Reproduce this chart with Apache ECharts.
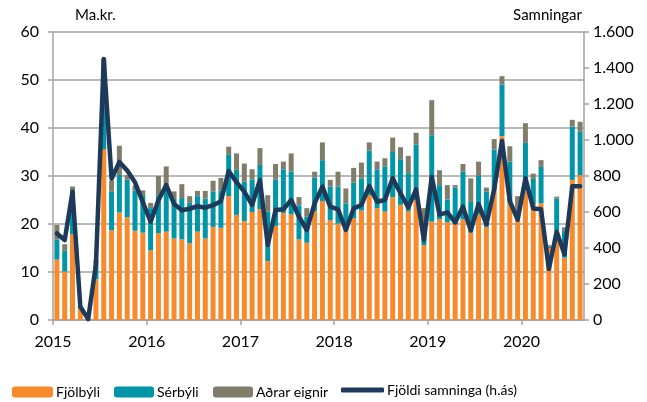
<html>
<head>
  <meta charset="utf-8" />
  <title>Fasteignaviðskipti</title>
  <script src="https://cdn.jsdelivr.net/npm/echarts@6/dist/echarts.min.js"></script>
</head>
<body style="margin:0; background:#ffffff">
  <div id="main" style="width:647px; height:402px"></div>
  <script type="text/javascript">
    // monthly, Jan 2015 - Aug 2020
    var startYear = 2015;
    var yearTicks = [0, 12, 24, 36, 48, 60];

    // ma.kr. (vinstri ás)
    var fjolbyli = [
      12.6, 10.1, 17.9, 2.5, 0.5, 8.5, 35.6, 18.7, 22.4, 21.4, 18.6, 18.2,
      14.5, 18.1, 18.4, 17.0, 16.8, 16.0, 18.4, 17.0, 19.4, 19.2, 25.8, 21.9,
      20.6, 22.5, 23.1, 12.3, 19.6, 22.3, 22.0, 16.8, 16.1, 22.7, 24.8, 20.8,
      20.1, 19.6, 21.2, 22.8, 26.0, 23.3, 22.6, 25.6, 24.0, 22.7, 25.0, 15.6,
      20.5, 21.0, 20.4, 20.0, 21.0, 18.2, 22.0, 19.4, 27.0, 38.3, 24.6, 21.5,
      27.0, 24.0, 24.3, 15.0, 18.7, 13.0, 29.2, 30.2
    ];
    var serbyli = [
      4.2, 4.3, 9.0, 0.3, 0.0, 3.2, 8.4, 8.0, 7.8, 7.8, 8.4, 7.8,
      8.8, 7.9, 9.8, 8.2, 8.6, 8.4, 7.4, 8.3, 7.4, 7.8, 8.6, 9.4,
      8.2, 6.8, 9.2, 10.3, 9.7, 9.1, 8.9, 7.1, 5.4, 7.0, 8.5, 7.0,
      7.7, 4.7, 7.4, 6.7, 9.3, 8.1, 9.4, 9.4, 9.5, 7.9, 11.5, 1.2,
      18.0, 7.1, 4.7, 7.6, 9.9, 6.4, 8.0, 7.4, 8.5, 10.8, 8.4, 1.2,
      9.9, 5.4, 7.6, 0.3, 6.6, 5.6, 11.1, 9.0
    ];
    var adrarEignir = [
      3.0, 1.4, 0.9, 0.0, 0.0, 0.8, 10.5, 2.3, 6.1, 1.0, 1.0, 1.0,
      1.1, 4.0, 3.8, 1.6, 2.9, 1.4, 1.1, 1.6, 2.2, 2.6, 1.7, 3.4,
      3.8, 2.1, 3.5, 3.4, 3.2, 1.6, 3.8, 1.7, 1.8, 1.2, 3.7, 1.4,
      3.1, 3.1, 3.1, 3.3, 1.7, 1.6, 1.7, 3.0, 2.5, 3.6, 2.5, 6.5,
      7.3, 3.1, 3.0, 0.5, 1.6, 4.9, 3.0, 0.8, 2.2, 1.7, 3.2, 3.1,
      4.1, 1.1, 1.4, 0.3, 0.4, 0.7, 1.4, 2.1
    ];
    // fjöldi samninga (hægri ás)
    var fjoldi = [
      481, 444, 713, 74, 5, 310, 1450, 785, 878, 830, 765, 655,
      546, 665, 750, 645, 610, 618, 632, 624, 638, 660, 828, 765,
      713, 640, 778, 417, 611, 615, 667, 574, 500, 648, 741, 630,
      615, 500, 620, 639, 744, 657, 667, 787, 704, 626, 726, 444,
      796, 585, 598, 542, 630, 498, 644, 532, 727, 995, 660, 557,
      787, 620, 615, 283, 491, 365, 743, 743
    ];

    var months = fjolbyli.map(function(v, i) {
      return (startYear + Math.floor(i / 12)) + '-' + (i % 12 + 1);
    });

    var names = ['Fjölbýli', 'Sérbýli', 'Aðrar eignir', 'Fjöldi samninga (h.ás)'];
    var colors = ['#F68A2C', '#0096A8', '#817D6B', '#1E3A5A'];
    var gridColor = '#a3a3a3';
    var font = 'Lato, "Liberation Sans", sans-serif';

    function dotThousands(v) {
      var s = String(v);
      return v >= 1000 ? s.slice(0, s.length - 3) + '.' + s.slice(-3) : s;
    }

    function legendAt(left, top, name, w, h, icon) {
      var item = {name: name};
      if (icon) item.icon = icon;
      return {
        left: left, top: top, padding: 0, itemWidth: w, itemHeight: h,
        data: [item], selectedMode: false,
        textStyle: {fontFamily: font, fontSize: 14, color: '#000', lineHeight: h, padding: [0, 0, 0, -2]}
      };
    }

    var myChart = echarts.init(document.getElementById('main'), null, {renderer: 'canvas'});
    var option = {
      animation: false,
      textStyle: {fontFamily: font},
      grid: {left: 53, right: 63, top: 32, bottom: 82},
      legend: [
        legendAt(12, 385, names[0], 41, 11),
        legendAt(114, 385, names[1], 40, 11),
        legendAt(213, 385, names[2], 40, 11),
        legendAt(341, 383, names[3], 43, 5, 'roundRect')
      ],
      xAxis: [
        {type: 'category', data: months, position: 'bottom', show: false},
        {
          type: 'value', min: 0, max: fjolbyli.length, position: 'bottom',
          axisLine: {show: true, lineStyle: {color: gridColor, width: 1.5}},
          axisTick: {show: true, length: 5, customValues: yearTicks, lineStyle: {color: gridColor, width: 1.5}},
          axisLabel: {
            customValues: yearTicks, margin: 14, fontSize: 16, color: '#000',
            formatter: function(v) { return String(startYear + v / 12); }
          },
          splitLine: {show: false}
        }
      ],
      yAxis: [
        {
          type: 'value', min: 0, max: 60, interval: 10, position: 'left',
          name: 'Ma.kr.', nameLocation: 'end', nameGap: 17,
          nameTextStyle: {fontSize: 15, color: '#000', align: 'left', verticalAlign: 'middle', padding: [0, 0, 0, 22]},
          axisLine: {show: true, lineStyle: {color: gridColor, width: 1.5}},
          axisTick: {show: true, length: 5, lineStyle: {color: gridColor, width: 1.5}},
          axisLabel: {fontSize: 16, color: '#000', margin: 14},
          splitLine: {show: true, lineStyle: {color: gridColor, width: 1.5}}
        },
        {
          type: 'value', min: 0, max: 1600, interval: 200, position: 'right',
          name: 'Samningar', nameLocation: 'end', nameGap: 17,
          nameTextStyle: {fontSize: 15, color: '#000', align: 'right', verticalAlign: 'middle', padding: [0, 2, 0, 0]},
          axisLine: {show: true, lineStyle: {color: gridColor, width: 1.5}},
          axisTick: {show: true, length: 5, lineStyle: {color: gridColor, width: 1.5}},
          axisLabel: {fontSize: 16, color: '#000', margin: 9, formatter: dotThousands},
          splitLine: {show: false}
        }
      ],
      series: [
        {name: names[0], type: 'bar', stack: 'v', data: fjolbyli, barCategoryGap: '36%', itemStyle: {color: colors[0]}},
        {name: names[1], type: 'bar', stack: 'v', data: serbyli, itemStyle: {color: colors[1]}},
        {name: names[2], type: 'bar', stack: 'v', data: adrarEignir, itemStyle: {color: colors[2]}},
        {
          name: names[3], type: 'line', yAxisIndex: 1, data: fjoldi, symbol: 'none', z: 5,
          itemStyle: {color: colors[3]},
          lineStyle: {color: colors[3], width: 4.5, join: 'round', cap: 'round'}
        }
      ]
    };
    myChart.setOption(option);
  </script>
</body>
</html>
